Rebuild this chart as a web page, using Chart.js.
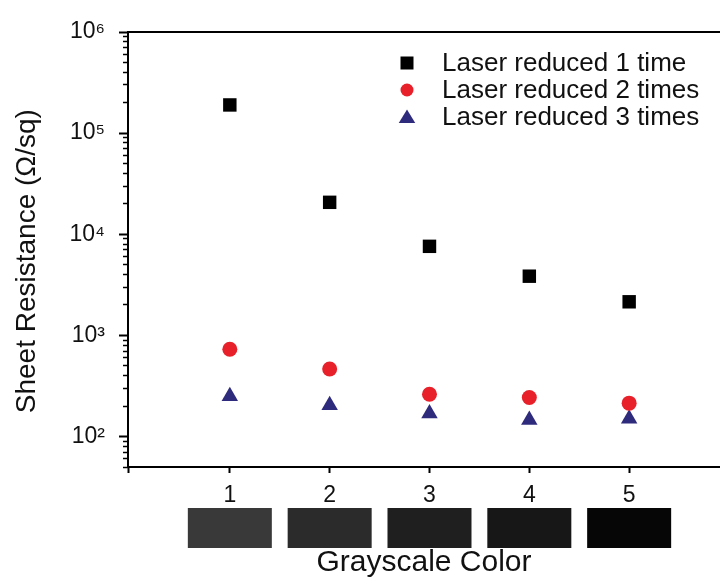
<!DOCTYPE html>
<html>

<head>
  <script src="https://cdn.jsdelivr.net/npm/chart.js"></script>
  <style>
    body { margin: 0; background: #fff; }
  </style>
</head>

<body>
  <canvas id="resistanceChart" width="720" height="578"></canvas>

  <script>
    // grayscale colour index on the x axis
    const categories = [1, 2, 3, 4, 5];
    // sheet resistance [Ohm/sq]
    const reducedOnce = [1.9e5, 2.07e4, 7.6e3, 3.85e3, 2.15e3];
    const reducedTwice = [730, 465, 262, 243, 214];
    const reducedThrice = [250, 204, 169, 146, 150];
    const seriesLabels = ["Laser reduced 1 time", "Laser reduced 2 times", "Laser reduced 3 times"];
    // y axis decades and the swatch shade under each category
    const decades = [1e2, 1e3, 1e4, 1e5, 1e6];
    const swatchColors = ["#393939", "#2b2b2b", "#1f1f1f", "#171717", "#060606"];

    const FONT = "'Liberation Sans', Arial, sans-serif";
    const TEXT = "#111111";
    const sup = { 2: "\u00B2", 3: "\u00B3", 4: "\u2074", 5: "\u2075", 6: "\u2076" };

    function toPoints(values) {
      return categories.map((c, i) => ({ x: c, y: values[i] }));
    }

    function minorTicks() {
      const ticks = [];
      [50, 60, 70, 80, 90].forEach(v => ticks.push({ value: v }));
      decades.slice(0, -1).forEach(d => {
        for (let m = 2; m <= 9; m++) ticks.push({ value: d * m });
      });
      return ticks;
    }

    function drawMarker(ctx, style, x, y, r, color) {
      ctx.fillStyle = color;
      ctx.beginPath();
      if (style === "rect") {
        ctx.rect(x - r, y - r, 2 * r, 2 * r);
      } else if (style === "circle") {
        ctx.arc(x, y, r, 0, Math.PI * 2);
      } else {
        ctx.moveTo(x, y - r);
        ctx.lineTo(x + r * 1.1, y + r * 0.8);
        ctx.lineTo(x - r * 1.1, y + r * 0.8);
        ctx.closePath();
      }
      ctx.fill();
    }

    // grey swatches under the x ticks + legend in the top right corner
    const extras = {
      id: "extras",
      afterDraw(chart) {
        const ctx = chart.ctx;
        const xs = chart.scales.x;
        ctx.save();
        categories.forEach((c, i) => {
          const px = xs.getPixelForValue(c);
          ctx.fillStyle = swatchColors[i];
          ctx.fillRect(px - 42, 508, 84, 40);
        });

        ctx.font = "26px " + FONT;
        ctx.textBaseline = "middle";
        chart.data.datasets.forEach((ds, i) => {
          const y = 63 + i * 27;
          drawMarker(ctx, ds.pointStyle, 407, y, ds.pointStyle === "triangle" ? 7.5 : 6.5, ds.backgroundColor);
          ctx.fillStyle = TEXT;
          ctx.fillText(ds.label, 442, y + 1);
        });
        ctx.restore();
      }
    };

    new Chart(document.getElementById("resistanceChart"), {
      type: "scatter",
      data: {
        datasets: [
          { label: seriesLabels[0], data: toPoints(reducedOnce), pointStyle: "rect", pointRadius: 9.5, backgroundColor: "#000000", borderColor: "#000000", borderWidth: 0 },
          { label: seriesLabels[1], data: toPoints(reducedTwice), pointStyle: "circle", pointRadius: 7.5, backgroundColor: "#e8202a", borderColor: "#e8202a", borderWidth: 0 },
          { label: seriesLabels[2], data: toPoints(reducedThrice), pointStyle: "triangle", pointRadius: 9.5, backgroundColor: "#2f2b7c", borderColor: "#2f2b7c", borderWidth: 0 }
        ]
      },
      options: {
        responsive: false,
        animation: false,
        layout: { autoPadding: false, padding: { top: 32, right: 0, bottom: 0, left: 0 } },
        plugins: {
          legend: { display: false },
          tooltip: { enabled: false }
        },
        scales: {
          x: {
            type: "linear",
            position: "bottom",
            min: -0.02,
            max: 5.91,
            afterBuildTicks: scale => { scale.ticks = [scale.min, ...categories].map(v => ({ value: v })); },
            afterFit: scale => { scale.height = 111; },
            ticks: {
              autoSkip: false,
              maxRotation: 0,
              padding: 9,
              color: TEXT,
              font: { family: FONT, size: 23 },
              callback: v => categories.includes(v) ? String(v) : ""
            },
            grid: { drawOnChartArea: false, tickLength: 6, tickWidth: 2, tickColor: "#000" },
            border: { color: "#000", width: 2 },
            title: {
              display: true,
              text: "Grayscale Color",
              color: TEXT,
              font: { family: FONT, size: 30, lineHeight: 1 },
              padding: { top: 0, bottom: 0 }
            }
          },
          xTop: {
            type: "linear",
            position: "top",
            min: -0.02,
            max: 5.91,
            afterBuildTicks: scale => { scale.ticks = []; },
            afterFit: scale => { scale.height = 0; },
            ticks: { display: false },
            grid: { drawOnChartArea: false, drawTicks: false },
            border: { color: "#000", width: 2 }
          },
          y: {
            type: "logarithmic",
            position: "left",
            weight: 1,
            min: 50,
            max: 1e6,
            afterBuildTicks: scale => { scale.ticks = decades.map(v => ({ value: v, major: true })); },
            afterFit: scale => { scale.width = 128; },
            ticks: {
              autoSkip: false,
              padding: 14,
              color: TEXT,
              font: { family: FONT, size: 23 },
              callback: v => "10" + sup[Math.round(Math.log10(v))]
            },
            grid: { drawOnChartArea: false, tickLength: 9, tickWidth: 2, tickColor: "#000" },
            border: { color: "#000", width: 2 },
            title: {
              display: true,
              text: "Sheet Resistance (\u03A9/sq)   ",
              color: TEXT,
              font: { family: FONT, size: 28 },
              padding: { top: 10, bottom: 0 }
            }
          },
          yMinor: {
            type: "logarithmic",
            position: "left",
            weight: 0,
            min: 50,
            max: 1e6,
            afterBuildTicks: scale => { scale.ticks = minorTicks(); },
            afterFit: scale => { scale.width = 0; },
            ticks: { display: false },
            grid: { drawOnChartArea: false, tickLength: 5, tickWidth: 1.5, tickColor: "#000" },
            border: { display: false }
          }
        }
      },
      plugins: [extras]
    });
  </script>
</body>

</html>
